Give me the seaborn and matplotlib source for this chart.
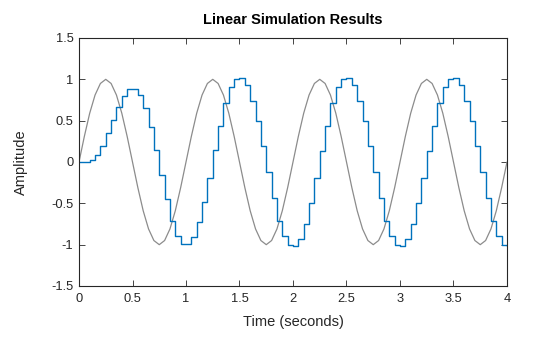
import matplotlib
matplotlib.use("Agg")
import matplotlib.pyplot as plt
import seaborn as sns
import pandas as pd

time_s = [0.0, 0.05, 0.1, 0.15, 0.2, 0.25, 0.3, 0.35, 0.4, 0.45,
          0.5, 0.55, 0.6, 0.65, 0.7, 0.75, 0.8, 0.85, 0.9, 0.95,
          1.0, 1.05, 1.1, 1.15, 1.2, 1.25, 1.3, 1.35, 1.4, 1.45,
          1.5, 1.55, 1.6, 1.65, 1.7, 1.75, 1.8, 1.85, 1.9, 1.95,
          2.0, 2.05, 2.1, 2.15, 2.2, 2.25, 2.3, 2.35, 2.4, 2.45,
          2.5, 2.55, 2.6, 2.65, 2.7, 2.75, 2.8, 2.85, 2.9, 2.95,
          3.0, 3.05, 3.1, 3.15, 3.2, 3.25, 3.3, 3.35, 3.4, 3.45,
          3.5, 3.55, 3.6, 3.65, 3.7, 3.75, 3.8, 3.85, 3.9, 3.95,
          4.0]

input_amp = [0.0, 0.31, 0.59, 0.81, 0.95, 1.0, 0.95, 0.81, 0.59, 0.31,
             0.0, -0.31, -0.59, -0.81, -0.95, -1.0, -0.95, -0.81, -0.59, -0.31,
             0.0, 0.31, 0.59, 0.81, 0.95, 1.0, 0.95, 0.81, 0.59, 0.31,
             0.0, -0.31, -0.59, -0.81, -0.95, -1.0, -0.95, -0.81, -0.59, -0.31,
             0.0, 0.31, 0.59, 0.81, 0.95, 1.0, 0.95, 0.81, 0.59, 0.31,
             0.0, -0.31, -0.59, -0.81, -0.95, -1.0, -0.95, -0.81, -0.59, -0.31,
             0.0, 0.31, 0.59, 0.81, 0.95, 1.0, 0.95, 0.81, 0.59, 0.31,
             0.0, -0.31, -0.59, -0.81, -0.95, -1.0, -0.95, -0.81, -0.59, -0.31,
             0.0]

output_amp = [0.0, 0.0, 0.02, 0.08, 0.19, 0.35, 0.51, 0.67, 0.80, 0.88,
              0.88, 0.81, 0.65, 0.42, 0.14, -0.16, -0.45, -0.71, -0.89, -0.99,
              -0.99, -0.91, -0.73, -0.48, -0.19, 0.14, 0.44, 0.71, 0.91, 1.01,
              1.02, 0.93, 0.74, 0.49, 0.19, -0.12, -0.44, -0.71, -0.90, -1.00,
              -1.02, -0.93, -0.75, -0.49, -0.19, 0.13, 0.44, 0.71, 0.91, 1.01,
              1.02, 0.93, 0.74, 0.49, 0.19, -0.12, -0.44, -0.71, -0.90, -1.00,
              -1.02, -0.93, -0.75, -0.49, -0.19, 0.13, 0.44, 0.71, 0.91, 1.01,
              1.02, 0.93, 0.74, 0.49, 0.19, -0.12, -0.44, -0.71, -0.90, -1.00,
              -1.02]

x_ticks = [0, 0.5, 1, 1.5, 2, 2.5, 3, 3.5, 4]
x_tick_labels = ["0", "0.5", "1", "1.5", "2", "2.5", "3", "3.5", "4"]
y_ticks = [-1.5, -1, -0.5, 0, 0.5, 1, 1.5]
y_tick_labels = ["-1.5", "-1", "-0.5", "0", "0.5", "1", "1.5"]

df = pd.DataFrame({"t": time_s, "u": input_amp, "y": output_amp})

sns.set_theme(style="white")
plt.rcParams["font.family"] = ["Liberation Sans", "DejaVu Sans"]

fig = plt.figure(figsize=(5.6, 3.37), dpi=100)
ax = fig.add_axes([79 / 560, 1 - 286 / 337, (507 - 79) / 560, (286 - 38) / 337])

sns.lineplot(data=df, x="t", y="u", ax=ax, color="#8c8c8c", linewidth=0.9)
sns.lineplot(data=df, x="t", y="y", ax=ax, color="#0072BD", linewidth=1.0,
             drawstyle="steps-post")

ax.set_xlim(0, 4)
ax.set_ylim(-1.5, 1.5)
ax.set_xticks(x_ticks)
ax.set_xticklabels(x_tick_labels)
ax.set_yticks(y_ticks)
ax.set_yticklabels(y_tick_labels)

dark = "#262626"
for s in ax.spines.values():
    s.set_visible(True)
    s.set_color(dark)
    s.set_linewidth(0.8)
ax.tick_params(direction="in", length=4, width=0.6, colors=dark,
               labelsize=9.3, top=True, right=True, bottom=True, left=True,
               labelcolor=dark, pad=4)
ax.tick_params(axis="x", pad=5)

ax.set_xlabel("Time (seconds)", fontsize=10.5, color=dark, labelpad=7)
ax.set_ylabel("Amplitude", fontsize=10.5, color=dark, labelpad=17)
ax.set_title("Linear Simulation Results", fontsize=10.5, fontweight="bold",
             color="black", pad=10)

fig.savefig("out.png", dpi=100)
